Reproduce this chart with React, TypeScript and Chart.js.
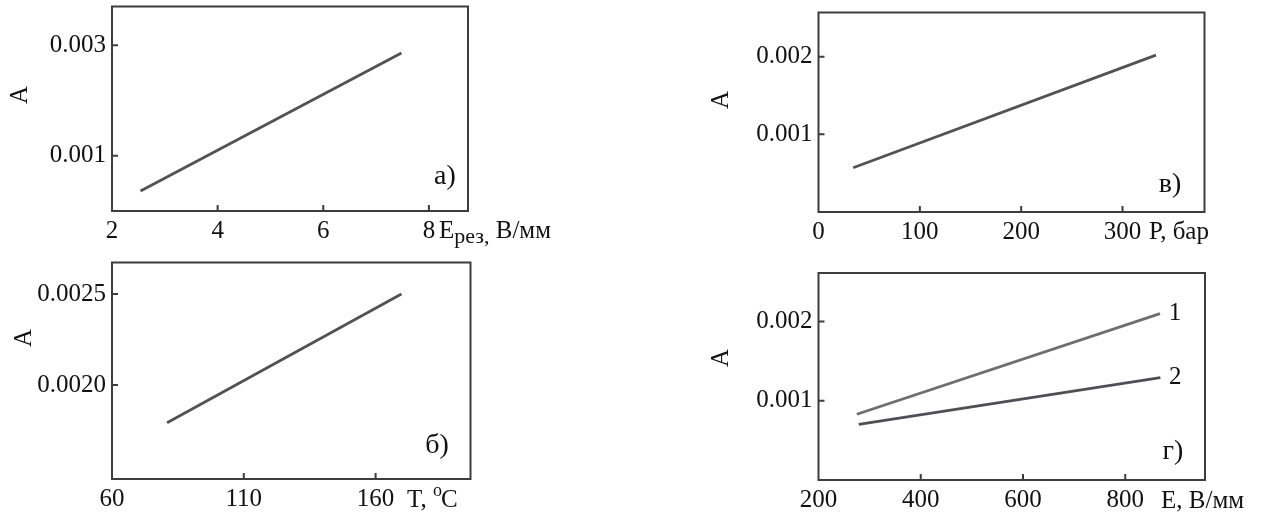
import { useEffect, useRef } from "react";
import { Chart, registerables } from "chart.js";

Chart.register(...registerables);

const SERIF = '"Liberation Serif", "Times New Roman", serif';
const INK = "#111111";
const FRAME = "#3d3d3d";

// а) A against the cutting field strength E_рез, В/мм
const fieldX = [2.54, 7.48];
const fieldA = [0.00036, 0.002857];
const fieldXTicks = [2, 4, 6, 8];
const fieldYTicks = [0.001, 0.003];
const fieldYTickLabels = ["0.001", "0.003"];

// б) A against temperature T, °C
const tempX = [80.9, 169.8];
const tempA = [0.001793, 0.0025];
const tempXTicks = [60, 110, 160];
const tempYTicks = [0.002, 0.0025];
const tempYTickLabels = ["0.0020", "0.0025"];

// в) A against pressure P, бар
const pressX = [34.2, 333];
const pressA = [0.00057, 0.00202];
const pressXTicks = [0, 100, 200, 300];
const pressYTicks = [0.001, 0.002];
const pressYTickLabels = ["0.001", "0.002"];

// г) A against field E, В/мм for two cases
const eX1 = [275, 868];
const eA1 = [0.00083, 0.0021];
const eX2 = [278.8, 868.7];
const eA2 = [0.000703, 0.001292];
const eXTicks = [200, 400, 600, 800];
const eYTicks = [0.001, 0.002];
const eYTickLabels = ["0.001", "0.002"];
const curveNames = ["1", "2"];

type Piece = { text: string; size?: number; dy?: number; dx?: number };
type Series = { xs: number[]; ys: number[]; color: string; name?: string };
type PanelSpec = {
  box: { left: number; top: number; width: number; height: number };
  plot: { left: number; top: number; right: number; bottom: number };
  xRange: [number, number];
  yRange: [number, number];
  xTicks: number[];
  yTicks: number[];
  yTickLabels: string[];
  series: Series[];
  tag: string;
  tagAt: [number, number];
  yTitleAt: [number, number];
  xTitleX: number;
  xTitleDrop: number;
  xTitle: Piece[];
};

const panels: PanelSpec[] = [
  {
    box: { left: 0, top: 0, width: 632, height: 257 },
    plot: { left: 112, top: 6.5, right: 468, bottom: 211 },
    xRange: [2, 8.74],
    yRange: [0, 0.0037],
    xTicks: fieldXTicks,
    yTicks: fieldYTicks,
    yTickLabels: fieldYTickLabels,
    series: [{ xs: fieldX, ys: fieldA, color: "#525252" }],
    tag: "а)",
    tagAt: [445, 177],
    yTitleAt: [20, 95],
    xTitleX: 439,
    xTitleDrop: 27,
    xTitle: [{ text: "E" }, { text: "рез,", size: 22, dy: 5 }, { text: " В/мм" }],
  },
  {
    box: { left: 0, top: 257, width: 632, height: 258 },
    plot: { left: 112, top: 5.5, right: 470.5, bottom: 222 },
    xRange: [60, 196],
    yRange: [0.001484, 0.002673],
    xTicks: tempXTicks,
    yTicks: tempYTicks,
    yTickLabels: tempYTickLabels,
    series: [{ xs: tempX, ys: tempA, color: "#525252" }],
    tag: "б)",
    tagAt: [437, 189],
    yTitleAt: [24, 81],
    xTitleX: 407,
    xTitleDrop: 28,
    xTitle: [{ text: "T, " }, { text: "o", size: 18, dy: -11 }, { text: "C", dx: -1 }],
  },
  {
    box: { left: 632, top: 0, width: 632, height: 257 },
    plot: { left: 186.5, top: 12.5, right: 572.5, bottom: 212 },
    xRange: [0, 380.9],
    yRange: [0, 0.002568],
    xTicks: pressXTicks,
    yTicks: pressYTicks,
    yTickLabels: pressYTickLabels,
    series: [{ xs: pressX, ys: pressA, color: "#525252" }],
    tag: "в)",
    tagAt: [538, 185],
    yTitleAt: [89, 100],
    xTitleX: 517,
    xTitleDrop: 27,
    xTitle: [{ text: "P, бар" }],
  },
  {
    box: { left: 632, top: 257, width: 632, height: 258 },
    plot: { left: 186.5, top: 16, right: 573, bottom: 223 },
    xRange: [200, 956],
    yRange: [0, 0.002614],
    xTicks: eXTicks,
    yTicks: eYTicks,
    yTickLabels: eYTickLabels,
    series: [
      { xs: eX1, ys: eA1, color: "#6e6e6e", name: curveNames[0] },
      { xs: eX2, ys: eA2, color: "#4e4e56", name: curveNames[1] },
    ],
    tag: "г)",
    tagAt: [541, 195],
    yTitleAt: [89, 101],
    xTitleX: 529,
    xTitleDrop: 28,
    xTitle: [{ text: "E, В/мм" }],
  },
];

function PanelChart({ spec }: { spec: PanelSpec }) {
  const ref = useRef<HTMLCanvasElement>(null);

  useEffect(() => {
    const canvas = ref.current;
    if (!canvas) return;
    const { box, plot } = spec;

    // frame, inward tick marks and all free-standing text of the panel
    const decor = {
      id: "panelDecor",
      afterDraw(chart: any) {
        const { ctx, chartArea: a, scales } = chart;
        const xs = scales.x;
        const ys = scales.y;
        ctx.save();

        ctx.strokeStyle = FRAME;
        ctx.lineWidth = 2;
        ctx.strokeRect(a.left, a.top, a.right - a.left, a.bottom - a.top);

        ctx.beginPath();
        for (const v of spec.xTicks) {
          const px = xs.getPixelForValue(v);
          if (px > a.left + 2 && px < a.right - 2) {
            ctx.moveTo(px, a.bottom);
            ctx.lineTo(px, a.bottom - 6);
          }
        }
        for (const v of spec.yTicks) {
          const py = ys.getPixelForValue(v);
          if (py > a.top + 2 && py < a.bottom - 2) {
            ctx.moveTo(a.left, py);
            ctx.lineTo(a.left + 6, py);
          }
        }
        ctx.stroke();

        ctx.fillStyle = INK;

        // panel letter
        ctx.font = `28px ${SERIF}`;
        ctx.textAlign = "center";
        ctx.textBaseline = "middle";
        ctx.fillText(spec.tag, spec.tagAt[0], spec.tagAt[1]);

        // vertical axis title
        ctx.save();
        ctx.translate(spec.yTitleAt[0], spec.yTitleAt[1]);
        ctx.rotate(-Math.PI / 2);
        ctx.font = `25px ${SERIF}`;
        ctx.fillText("A", 0, 0);
        ctx.restore();

        // horizontal axis title, placed after the last tick label
        ctx.textAlign = "left";
        ctx.textBaseline = "alphabetic";
        let cx = spec.xTitleX;
        const base = a.bottom + spec.xTitleDrop;
        for (const p of spec.xTitle) {
          ctx.font = `${p.size ?? 25}px ${SERIF}`;
          cx += p.dx ?? 0;
          ctx.fillText(p.text, cx, base + (p.dy ?? 0));
          cx += ctx.measureText(p.text).width;
        }

        // curve numbers at the right ends of the lines
        ctx.font = `25px ${SERIF}`;
        ctx.textAlign = "center";
        ctx.textBaseline = "middle";
        for (const s of spec.series) {
          if (!s.name) continue;
          const last = s.xs.length - 1;
          const px = xs.getPixelForValue(s.xs[last]);
          const py = ys.getPixelForValue(s.ys[last]);
          ctx.fillText(s.name, px + 15, py);
        }

        ctx.restore();
      },
    };

    const tickFont = { family: SERIF, size: 25 };

    const chart = new Chart(canvas, {
      type: "line",
      data: {
        datasets: spec.series.map((s) => ({
          data: s.xs.map((x, i) => ({ x, y: s.ys[i] })),
          borderColor: s.color,
          borderWidth: 2.8,
          pointRadius: 0,
          fill: false,
          tension: 0,
        })),
      },
      options: {
        animation: false,
        responsive: false,
        maintainAspectRatio: false,
        events: [],
        layout: {
          padding: { left: 0, top: plot.top, right: box.width - plot.right, bottom: 0 },
        },
        plugins: { legend: { display: false }, tooltip: { enabled: false } },
        scales: {
          x: {
            type: "linear",
            min: spec.xRange[0],
            max: spec.xRange[1],
            grid: { display: false, drawTicks: false },
            border: { display: false },
            afterBuildTicks: (s: any) => {
              s.ticks = spec.xTicks.map((v) => ({ value: v }));
            },
            afterFit: (s: any) => {
              s.height = box.height - plot.bottom;
              s.paddingLeft = 0;
              s.paddingRight = 0;
            },
            ticks: {
              font: tickFont,
              color: INK,
              padding: 5,
              maxRotation: 0,
              autoSkip: false,
              callback: (v: any) => String(v),
            },
          },
          y: {
            type: "linear",
            min: spec.yRange[0],
            max: spec.yRange[1],
            grid: { display: false, drawTicks: false },
            border: { display: false },
            afterBuildTicks: (s: any) => {
              s.ticks = spec.yTicks.map((v) => ({ value: v }));
            },
            afterFit: (s: any) => {
              s.width = plot.left;
              s.paddingTop = 0;
              s.paddingBottom = 0;
            },
            ticks: {
              font: tickFont,
              color: INK,
              padding: 6,
              autoSkip: false,
              callback: (_v: any, i: number) => spec.yTickLabels[i],
            },
          },
        },
      } as any,
      plugins: [decor],
    });

    return () => chart.destroy();
  }, [spec]);

  return (
    <canvas
      ref={ref}
      width={spec.box.width}
      height={spec.box.height}
      style={{
        position: "absolute",
        left: spec.box.left,
        top: spec.box.top,
        width: spec.box.width,
        height: spec.box.height,
      }}
    />
  );
}

export default function App() {
  return (
    <div
      style={{
        position: "fixed",
        left: 0,
        top: 0,
        width: 1264,
        height: 515,
        background: "#ffffff",
        overflow: "hidden",
      }}
    >
      {panels.map((p, i) => (
        <PanelChart key={i} spec={p} />
      ))}
    </div>
  );
}
